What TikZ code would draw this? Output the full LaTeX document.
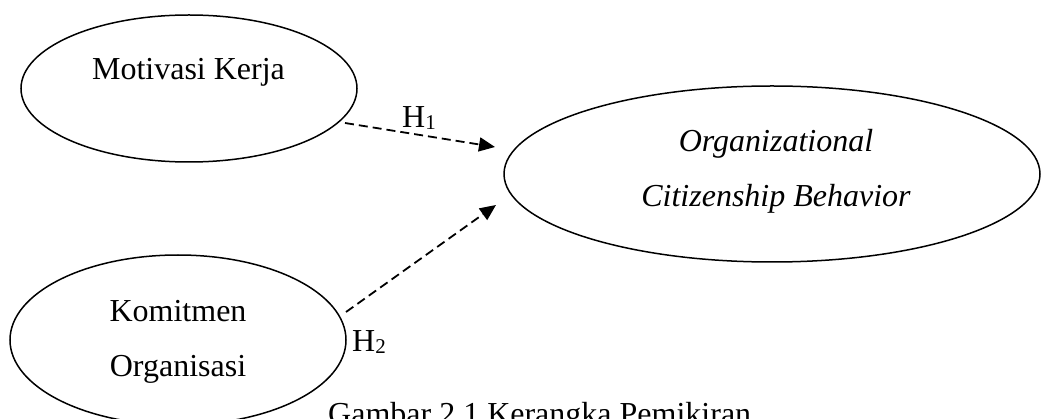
\documentclass[tikz,border=0pt]{standalone}
\usepackage{fontspec}
\setmainfont{Liberation Serif}
\usetikzlibrary{shapes.geometric,arrows.meta}
\tikzset{
  oval/.style={draw, ellipse, line width=1.5pt, inner sep=0pt},
  lbl/.style={anchor=base, inner sep=0pt, font=\fontsize{32}{38}\selectfont},
  hyp/.style={draw, line width=1.8pt, dash pattern=on 9pt off 5pt, -{Triangle[length=16pt,width=14pt]}}
}
\newcommand{\hsub}[1]{H\raisebox{-2pt}{\fontsize{21}{21}\selectfont #1}}
\begin{document}
\begin{tikzpicture}[x=1pt,y=-1pt]
\useasboundingbox (0,0) rectangle (1041,419);
\clip (0,0) rectangle (1041,419);
% ellipses
\node[oval, minimum width=336pt, minimum height=147pt] (mk) at (189,88.5) {};
\node[oval, minimum width=336pt, minimum height=170pt] (ko) at (178,340) {};
\node[oval, minimum width=536pt, minimum height=176pt] (ocb) at (772,174) {};
% texts
\node[lbl] (tmk) at (188.5,80) {Motivasi Kerja};
\node[lbl] (tko1) at (178,322) {Komitmen};
\node[lbl] (tko2) at (178,377) {Organisasi};
\node[lbl] (tocb1) at (776,152) {\itshape Organizational};
\node[lbl] (tocb2) at (776,207) {\itshape Citizenship Behavior};
% connectors
\coordinate (h1s) at (345,123);
\coordinate (h1e) at (495,147);
\coordinate (h2s) at (346,312);
\coordinate (h2e) at (496,205);
\draw[hyp] (h1s) -- (h1e);
\draw[hyp] (h2s) -- (h2e);
\node[lbl, anchor=base west] (h1) at (402,128) {\hsub{1}};
\node[lbl, anchor=base west] (h2) at (352,352) {\hsub{2}};
% caption
\node[lbl, anchor=base west] (cap) at (328,424) {Gambar 2.1 Kerangka Pemikiran};
\end{tikzpicture}
\end{document}
